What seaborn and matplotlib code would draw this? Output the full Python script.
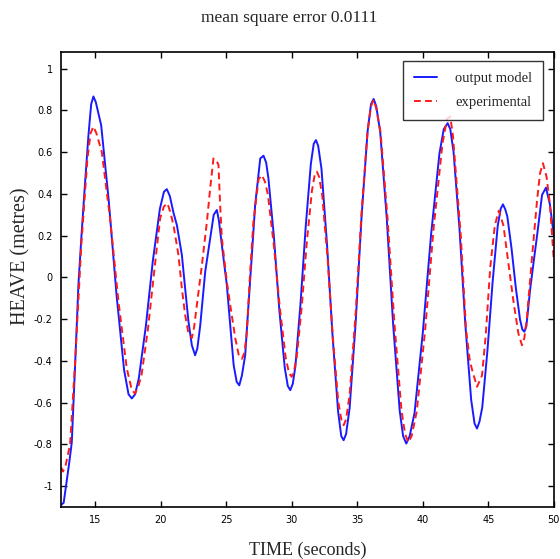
import numpy as np
import pandas as pd
import matplotlib
matplotlib.use("Agg")
import matplotlib.pyplot as plt
import seaborn as sns

# values
model_time = [
    12.40, 12.60, 13.01, 13.22, 13.48, 13.73, 13.98, 14.24, 14.49, 14.70,
    14.87, 15.05, 15.46, 16.04, 16.63, 17.21, 17.55, 17.80, 18.05, 18.33,
    18.87, 19.40, 19.94, 20.25, 20.47, 20.70, 20.98, 21.24, 21.62, 21.87,
    22.12, 22.38, 22.63, 22.80, 23.02, 23.40, 23.78, 24.05, 24.29, 24.45,
    24.67, 25.05, 25.31, 25.57, 25.80, 26.00, 26.20, 26.45, 26.70, 26.96,
    27.21, 27.60, 27.85, 28.05, 28.22, 28.64, 29.05, 29.47, 29.70, 29.89,
    30.08, 30.28, 30.67, 31.07, 31.46, 31.68, 31.85, 32.02, 32.27, 32.69,
    33.12, 33.54, 33.78, 33.96, 34.15, 34.42, 34.88, 35.33, 35.79, 36.05,
    36.25, 36.45, 36.75, 37.25, 37.74, 38.24, 38.50, 38.74, 39.00, 39.37,
    40.00, 40.64, 41.27, 41.60, 41.90, 42.10, 42.35, 42.80, 43.24, 43.69,
    43.95, 44.14, 44.33, 44.54, 44.93, 45.33, 45.72, 45.95, 46.12, 46.30,
    46.45, 46.77, 47.10, 47.42, 47.60, 47.75, 47.90, 48.20, 48.45, 48.72,
    49.10, 49.40, 49.70, 50.00,
]
model_heave = [
    -1.09, -1.08, -0.895, -0.79, -0.41, -0.03, 0.22, 0.46, 0.68, 0.83,
    0.867, 0.84, 0.73, 0.368, -0.081, -0.443, -0.56, -0.58, -0.56, -0.485,
    -0.234, 0.077, 0.328, 0.41, 0.423, 0.39, 0.31, 0.25, 0.107, -0.053,
    -0.21, -0.325, -0.373, -0.34, -0.23, 0.027, 0.187, 0.30, 0.323, 0.27,
    0.155, -0.037, -0.23, -0.42, -0.50, -0.517, -0.47, -0.373, -0.133, 0.107,
    0.347, 0.57, 0.583, 0.55, 0.476, 0.196, -0.153, -0.433, -0.52, -0.54,
    -0.51, -0.426, -0.127, 0.245, 0.544, 0.64, 0.658, 0.63, 0.521, 0.162,
    -0.284, -0.643, -0.76, -0.78, -0.75, -0.625, -0.216, 0.291, 0.70, 0.83,
    0.855, 0.82, 0.698, 0.285, -0.226, -0.639, -0.76, -0.796, -0.76, -0.65,
    -0.266, 0.209, 0.593, 0.71, 0.739, 0.71, 0.60, 0.234, -0.219, -0.585,
    -0.70, -0.724, -0.69, -0.622, -0.353, -0.021, 0.248, 0.33, 0.35, 0.325,
    0.292, 0.14, -0.05, -0.202, -0.25, -0.26, -0.235, -0.053, 0.07, 0.20,
    0.395, 0.43, 0.35, 0.20,
]

exp_time = [
    12.40, 12.55, 12.75, 13.09, 13.48, 13.94, 14.41, 14.65, 14.87, 15.10,
    15.51, 16.14, 16.78, 17.41, 17.80, 18.05, 18.30, 18.54, 19.04, 19.53,
    19.96, 20.25, 20.52, 20.75, 20.98, 21.36, 21.62, 21.87, 22.10, 22.38,
    22.55, 22.76, 23.15, 23.53, 23.78, 24.03, 24.25, 24.41, 24.54, 24.67,
    25.05, 25.31, 25.69, 25.95, 26.20, 26.40, 26.58, 26.83, 27.08, 27.47,
    27.72, 27.95, 28.18, 28.63, 29.09, 29.54, 29.80, 30.00, 30.20, 30.38,
    30.77, 31.15, 31.54, 31.75, 31.92, 32.10, 32.33, 32.74, 33.14, 33.55,
    33.78, 33.96, 34.15, 34.42, 34.88, 35.33, 35.79, 36.05, 36.25, 36.45,
    36.78, 37.31, 37.84, 38.37, 38.65, 38.90, 39.15, 39.54, 40.18, 40.82,
    41.50, 41.85, 42.10, 42.30, 42.55, 42.90, 43.30, 43.57, 43.75, 44.14,
    44.52, 44.80, 45.15, 45.50, 45.80, 46.15, 46.55, 46.93, 47.30, 47.57,
    47.75, 47.95, 48.34, 48.72, 48.95, 49.17, 49.45, 49.70, 50.00,
]
exp_heave = [
    -0.91, -0.93, -0.90, -0.80, -0.40, 0.15, 0.566, 0.69, 0.723, 0.69,
    0.601, 0.282, -0.115, -0.434, -0.54, -0.556, -0.52, -0.469, -0.242, 0.041,
    0.283, 0.34, 0.355, 0.31, 0.25, 0.107, -0.053, -0.18, -0.26, -0.29,
    -0.24, -0.133, 0.06, 0.267, 0.427, 0.57, 0.56, 0.54, 0.347, 0.187,
    -0.02, -0.133, -0.29, -0.37, -0.39, -0.36, -0.26, 0.027, 0.267, 0.47,
    0.49, 0.46, 0.398, 0.157, -0.143, -0.384, -0.46, -0.476, -0.44, -0.383,
    -0.137, 0.168, 0.414, 0.49, 0.507, 0.48, 0.392, 0.088, -0.289, -0.593,
    -0.68, -0.708, -0.68, -0.56, -0.17, 0.312, 0.702, 0.82, 0.85, 0.81,
    0.694, 0.284, -0.224, -0.634, -0.75, -0.79, -0.76, -0.642, -0.252, 0.232,
    0.64, 0.76, 0.77, 0.68, 0.48, 0.20, -0.25, -0.39, -0.44, -0.524,
    -0.47, -0.28, 0.05, 0.25, 0.32, 0.25, 0.06, -0.12, -0.27, -0.325,
    -0.29, -0.19, 0.10, 0.37, 0.50, 0.547, 0.48, 0.35, 0.08,
]

series_names = ["output model", "experimental"]
x_ticks = [15, 20, 25, 30, 35, 40, 45, 50]
y_ticks = [-1, -0.8, -0.6, -0.4, -0.2, 0, 0.2, 0.4, 0.6, 0.8, 1]
y_tick_labels = ["-1", "-0.8", "-0.6", "-0.4", "-0.2", "0", "0.2", "0.4", "0.6", "0.8", "1"]

df = pd.concat([
    pd.DataFrame({"time": model_time, "heave": model_heave, "series": series_names[0]}),
    pd.DataFrame({"time": exp_time, "heave": exp_heave, "series": series_names[1]}),
])

sns.set_style("white")
plt.rcParams["font.family"] = ["Liberation Serif", "DejaVu Serif"]

fig = plt.figure(figsize=(5.6, 5.59), dpi=100)
ax = fig.add_axes([0.109, 0.093, 0.880, 0.814])

sns.lineplot(
    data=df,
    x="time",
    y="heave",
    hue="series",
    style="series",
    palette={"output model": "#1a1aff", "experimental": "#ff1a1a"},
    dashes={"output model": "", "experimental": (3.5, 2.2)},
    estimator=None,
    sort=False,
    linewidth=1.4,
    ax=ax,
)

ax.set_xlim(12.4, 50)
ax.set_ylim(-1.1, 1.08)
ax.set_xticks(x_ticks)
ax.set_xticklabels([str(t) for t in x_ticks], family="DejaVu Sans", fontsize=7)
ax.set_yticks(y_ticks)
ax.set_yticklabels(y_tick_labels, family="DejaVu Sans", fontsize=7)
ax.tick_params(direction="in", length=4, width=1, top=True, right=True,
               bottom=True, left=True, pad=6, colors="black")

for spine in ax.spines.values():
    spine.set_color("black")
    spine.set_linewidth(1.2)

ax.set_xlabel("TIME (seconds)", fontsize=13, labelpad=12)
ax.set_ylabel("HEAVE (metres)", fontsize=14.5)
ax.yaxis.set_label_coords(-0.062, 0.55)
fig.text(0.516, 0.968, "mean square error 0.0111", fontsize=12.5,
         ha="center", va="center")

leg = ax.legend(
    loc="upper right",
    bbox_to_anchor=(0.978, 0.981),
    borderaxespad=0,
    fontsize=10.5,
    frameon=True,
    fancybox=False,
    edgecolor="black",
    handlelength=1.6,
    borderpad=0.75,
    labelspacing=0.75,
    handletextpad=1.2,
)
leg.get_frame().set_linewidth(1.0)
leg.set_title(None)

fig.savefig("out.png", dpi=100)
